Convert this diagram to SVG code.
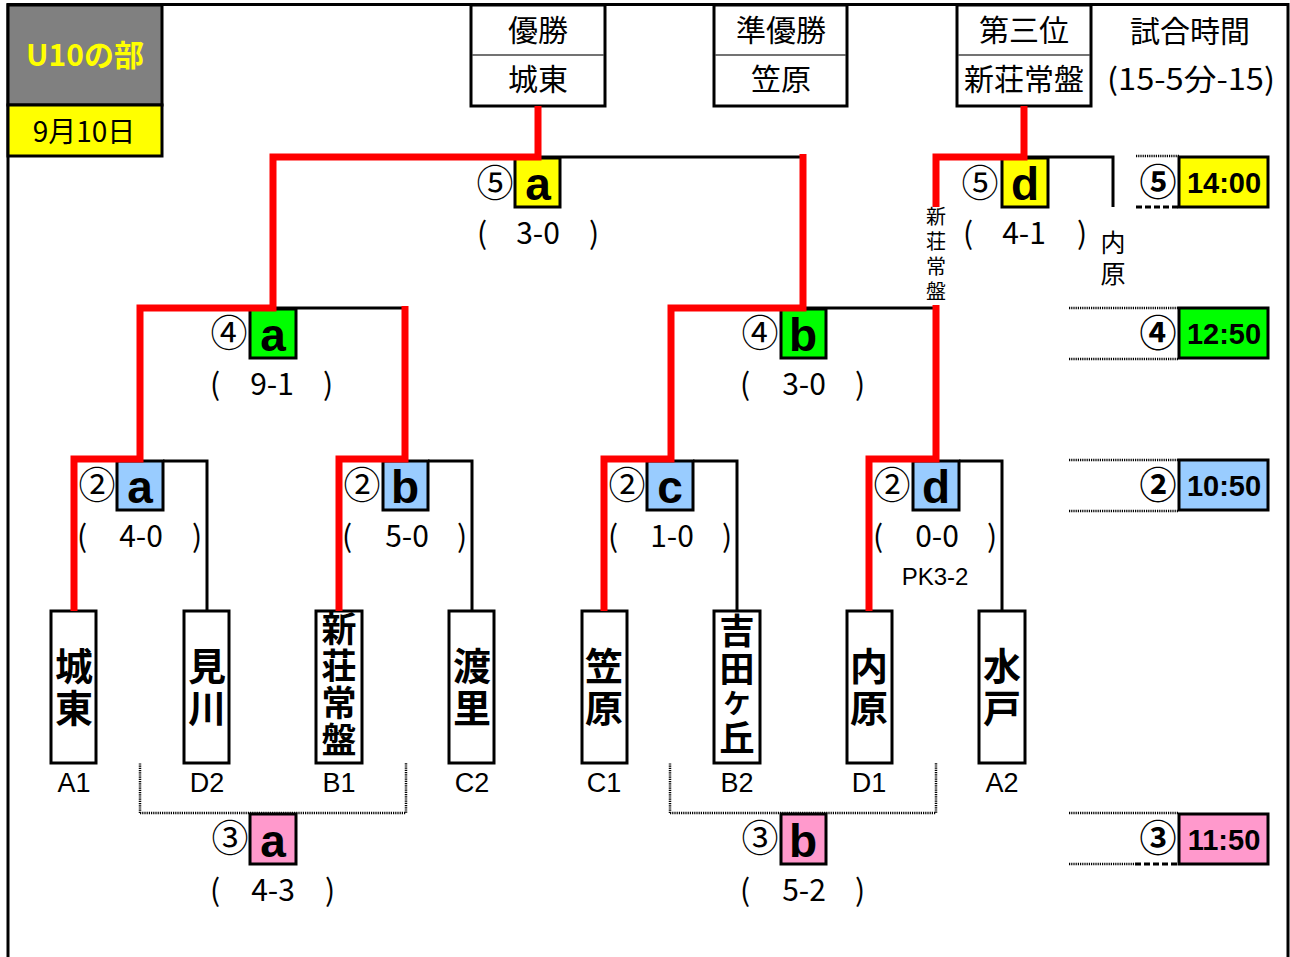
<svg xmlns="http://www.w3.org/2000/svg" width="1290" height="957" viewBox="0 0 1290 957">
<style>
.t{font-family:"Liberation Sans","Noto Sans CJK JP",sans-serif}
.j{font-family:"Noto Sans CJK JP","Liberation Sans",sans-serif}
.ln{stroke:#000;stroke-width:3;fill:none}
.win{stroke:#f00;stroke-width:7;fill:none;stroke-linejoin:miter}
.bx{stroke:#000;stroke-width:3}
.dot{stroke:#000;stroke-width:2.5;stroke-dasharray:1.2 1;fill:none}
.dash{stroke:#000;stroke-width:3;stroke-dasharray:6 3;fill:none}
.team{font-family:"Noto Sans CJK JP",sans-serif;font-weight:700;text-anchor:middle;writing-mode:vertical-rl}
.vt{font-family:"Noto Sans CJK JP",sans-serif;text-anchor:middle;writing-mode:vertical-rl}
.lab{font-family:"Liberation Sans",sans-serif;font-size:27px;text-anchor:middle}
.ltr{font-family:"Liberation Sans",sans-serif;font-weight:700;font-size:46px;text-anchor:middle}
.cn{font-family:"Noto Sans CJK JP",sans-serif;font-size:37px;text-anchor:middle}
.sc{font-family:"Noto Sans CJK JP",sans-serif;font-size:30px;text-anchor:middle}
.hd{font-family:"Noto Sans CJK JP",sans-serif;font-size:30px;text-anchor:middle}
.tm{font-family:"Liberation Sans",sans-serif;font-weight:700;font-size:29px;text-anchor:middle}
.y{fill:#ffff00}.g{fill:#00ff00}.b{fill:#99ccff}.p{fill:#ff99cc}.w{fill:#fff}
</style>
<rect width="1290" height="957" fill="#fff"/>
<g id="frame">
<path d="M8,957 V4.5 H1288 V957" class="ln"/>
</g>
<g id="title">
<rect x="8" y="5" width="154" height="100" fill="#808080" class="bx"/>
<text x="85" y="66" class="j" font-size="30" font-weight="700" fill="#ffff00" text-anchor="middle">U10の部</text>
<rect x="8" y="105" width="154" height="51" class="bx y"/>
<text x="84" y="142" class="j" font-size="28" text-anchor="middle">9月10日</text>
</g>
<g id="champion">
<rect x="471" y="5" width="134" height="101" class="bx w"/>
<line x1="472" y1="55" x2="604" y2="55" stroke="#444" stroke-width="1.5"/>
<text x="538" y="41" class="hd">優勝</text>
<text x="538" y="90" class="hd">城東</text>
</g>
<g id="runnerup">
<rect x="714" y="5" width="133" height="101" class="bx w"/>
<line x1="715" y1="55" x2="846" y2="55" stroke="#444" stroke-width="1.5"/>
<text x="781" y="41" class="hd">準優勝</text>
<text x="781" y="90" class="hd">笠原</text>
</g>
<g id="third">
<rect x="957" y="5" width="134" height="101" class="bx w"/>
<line x1="958" y1="55" x2="1090" y2="55" stroke="#444" stroke-width="1.5"/>
<text x="1024" y="41" class="hd">第三位</text>
<text x="1024" y="90" class="hd" font-size="31">新荘常盤</text>
</g>
<g id="time-header">
<text x="1190" y="42" class="hd" font-size="31">試合時間</text>
<text x="1191" y="90" class="hd" textLength="168" lengthAdjust="spacingAndGlyphs">(15-5分-15)</text>
</g>

<g id="m2a">
<rect x="117" y="461" width="46" height="49" class="bx b"/>
<text x="140" y="503" class="ltr">a</text>
<text x="97" y="499" class="cn">②</text>
<text x="82" y="547" class="sc">(</text><text x="141" y="547" class="sc">4-0</text><text x="197" y="547" class="sc">)</text>
</g>
<g id="m2b">
<rect x="383" y="461" width="45" height="49" class="bx b"/>
<text x="405" y="503" class="ltr">b</text>
<text x="362" y="499" class="cn">②</text>
<text x="347" y="547" class="sc">(</text><text x="407" y="547" class="sc">5-0</text><text x="462" y="547" class="sc">)</text>
</g>
<g id="m2c">
<rect x="647" y="461" width="46" height="49" class="bx b"/>
<text x="670" y="503" class="ltr">c</text>
<text x="627" y="499" class="cn">②</text>
<text x="613" y="547" class="sc">(</text><text x="672" y="547" class="sc">1-0</text><text x="727" y="547" class="sc">)</text>
</g>
<g id="m2d">
<rect x="913" y="461" width="46" height="49" class="bx b"/>
<text x="936" y="503" class="ltr">d</text>
<text x="892" y="499" class="cn">②</text>
<text x="878" y="547" class="sc">(</text><text x="937" y="547" class="sc">0-0</text><text x="992" y="547" class="sc">)</text>
<text x="935" y="585" class="t" font-size="24" text-anchor="middle">PK3-2</text>
</g>
<g id="m4a">
<rect x="250" y="309" width="46" height="49" class="bx g"/>
<text x="273" y="351" class="ltr">a</text>
<text x="229" y="347" class="cn">④</text>
<text x="215" y="395" class="sc">(</text><text x="272" y="395" class="sc">9-1</text><text x="328" y="395" class="sc">)</text>
</g>
<g id="m4b">
<rect x="781" y="309" width="45" height="49" class="bx g"/>
<text x="803" y="351" class="ltr">b</text>
<text x="760" y="347" class="cn">④</text>
<text x="745" y="395" class="sc">(</text><text x="804" y="395" class="sc">3-0</text><text x="860" y="395" class="sc">)</text>
</g>
<g id="m5a">
<rect x="515" y="158" width="45" height="49" class="bx y"/>
<text x="538" y="200" class="ltr">a</text>
<text x="495" y="197" class="cn">⑤</text>
<text x="482" y="244" class="sc">(</text><text x="538" y="244" class="sc">3-0</text><text x="594" y="244" class="sc">)</text>
</g>
<g id="m5d">
<rect x="1002" y="158" width="46" height="49" class="bx y"/>
<text x="1025" y="200" class="ltr">d</text>
<text x="980" y="197" class="cn">⑤</text>
<text x="968" y="244" class="sc">(</text><text x="1024" y="244" class="sc">4-1</text><text x="1082" y="244" class="sc">)</text>
<text x="936" y="256.5" class="vt" font-size="20" letter-spacing="5">新荘常盤</text>
<text x="1113" y="260.5" class="vt" font-size="25" letter-spacing="6">内原</text>
</g>
<g id="m3a">
<rect x="250" y="814" width="46" height="50" class="bx p"/>
<text x="273" y="857" class="ltr">a</text>
<text x="230" y="852" class="cn">③</text>
<text x="215" y="901" class="sc">(</text><text x="273" y="901" class="sc">4-3</text><text x="330" y="901" class="sc">)</text>
</g>
<g id="m3b">
<rect x="781" y="814" width="45" height="50" class="bx p"/>
<text x="803" y="857" class="ltr">b</text>
<text x="760" y="852" class="cn">③</text>
<text x="745" y="901" class="sc">(</text><text x="804" y="901" class="sc">5-2</text><text x="860" y="901" class="sc">)</text>
</g>

<g id="t-jouto">
<rect x="51" y="611" width="45" height="152" class="bx w"/>
<text x="74" y="689" class="team" font-size="38" letter-spacing="4">城東</text>
<text x="74" y="792" class="lab">A1</text>
</g>
<g id="t-migawa">
<rect x="184" y="611" width="45" height="152" class="bx w"/>
<text x="207" y="689" class="team" font-size="38" letter-spacing="4">見川</text>
<text x="207" y="792" class="lab">D2</text>
</g>
<g id="t-shinso">
<rect x="316" y="611" width="46" height="152" class="bx w"/>
<text x="339" y="685.5" class="team" font-size="35" letter-spacing="2">新荘常盤</text>
<text x="339" y="792" class="lab">B1</text>
</g>
<g id="t-watari">
<rect x="449" y="611" width="45" height="152" class="bx w"/>
<text x="472" y="689" class="team" font-size="38" letter-spacing="4">渡里</text>
<text x="472" y="792" class="lab">C2</text>
</g>
<g id="t-kasahara">
<rect x="582" y="611" width="45" height="152" class="bx w"/>
<text x="604" y="689" class="team" font-size="38" letter-spacing="4">笠原</text>
<text x="604" y="792" class="lab">C1</text>
</g>
<g id="t-yoshida">
<rect x="714" y="611" width="46" height="152" class="bx w"/>
<text x="737" y="685.5" class="team" font-size="35" letter-spacing="3">吉田<tspan font-size="28">ケ</tspan>丘</text>
<text x="737" y="792" class="lab">B2</text>
</g>
<g id="t-uchihara">
<rect x="847" y="611" width="45" height="152" class="bx w"/>
<text x="869" y="689" class="team" font-size="38" letter-spacing="4">内原</text>
<text x="869" y="792" class="lab">D1</text>
</g>
<g id="t-mito">
<rect x="979" y="611" width="46" height="152" class="bx w"/>
<text x="1002" y="689" class="team" font-size="38" letter-spacing="4">水戸</text>
<text x="1002" y="792" class="lab">A2</text>
</g>

<g id="time5">
<line x1="1136" y1="156" x2="1179" y2="156" class="dot"/>
<line x1="1136" y1="207" x2="1179" y2="207" class="dash"/>
<rect x="1179" y="157" width="89" height="50" class="bx y"/>
<text x="1224" y="193" class="tm">14:00</text>
<text x="1158" y="196" class="cn" font-weight="700">⑤</text>
</g>
<g id="time4">
<line x1="1069" y1="308" x2="1179" y2="308" class="dot"/>
<line x1="1069" y1="359" x2="1179" y2="359" class="dot"/>
<rect x="1179" y="308" width="89" height="50" class="bx g"/>
<text x="1224" y="344" class="tm">12:50</text>
<text x="1158" y="347" class="cn" font-weight="700">④</text>
</g>
<g id="time2">
<line x1="1069" y1="460" x2="1179" y2="460" class="dot"/>
<line x1="1069" y1="511" x2="1179" y2="511" class="dot"/>
<rect x="1179" y="460" width="89" height="50" class="bx b"/>
<text x="1224" y="496" class="tm">10:50</text>
<text x="1158" y="499" class="cn" font-weight="700">②</text>
</g>
<g id="time3">
<line x1="1069" y1="813" x2="1179" y2="813" class="dot"/>
<line x1="1069" y1="864" x2="1135" y2="864" class="dot"/>
<line x1="1135" y1="864" x2="1179" y2="864" class="dash"/>
<rect x="1179" y="814" width="89" height="50" class="bx p"/>
<text x="1224" y="850" class="tm">11:50</text>
<text x="1158" y="852" class="cn" font-weight="700">③</text>
</g>

<g id="connectors">
<path d="M207,611 V461 H163" class="ln"/>
<path d="M472,611 V461 H428" class="ln"/>
<path d="M737,611 V461 H693" class="ln"/>
<path d="M1002,611 V461 H959" class="ln"/>
<path d="M273,308 H405" class="ln"/>
<path d="M803,308 H936" class="ln"/>
<path d="M538,157 H803" class="ln"/>
<path d="M1024,157 H1113 V207" class="ln"/>
<path d="M140,813 V763 M140,813 H406 V763" class="dot"/>
<path d="M670,813 V763 M670,813 H936 V763" class="dot"/>
<path d="M74,611 V459 H140 V308 H273 V157 H538 V106" class="win"/>
<path d="M339,611 V459 H405 V306" class="win"/>
<path d="M604,611 V459 H671 V308 H803 V154" class="win"/>
<path d="M869,611 V459 H936 V305" class="win"/>
<path d="M936,207 V157 H1024 V106" class="win"/>
</g>
</svg>
